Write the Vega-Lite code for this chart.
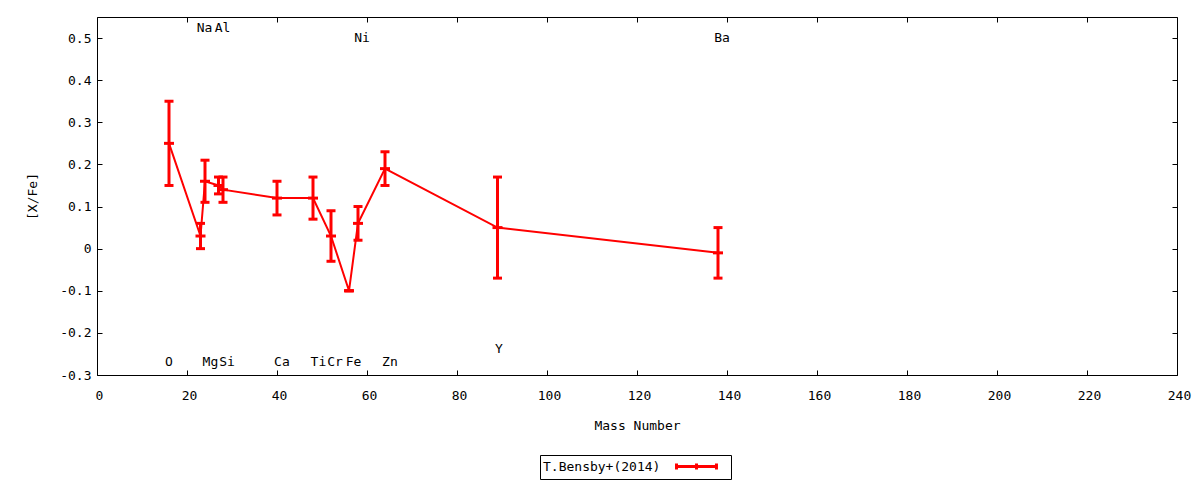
{
  "$schema": "https://vega.github.io/schema/vega-lite/v6.json",
  "width": 1080,
  "height": 358,
  "autosize": {"type": "none"},
  "padding": {"left": 97, "top": 17, "right": 23, "bottom": 105},
  "background": "white",
  "config": {
    "view": {"stroke": "black", "strokeWidth": 1},
    "axis": {
      "domain": false, "grid": false,
      "tickColor": "black", "tickSize": -5, "tickWidth": 1,
      "labelFont": "DejaVu Sans Mono", "labelFontSize": 13, "labelColor": "black",
      "titleFont": "DejaVu Sans Mono", "titleFontSize": 13, "titleFontWeight": "normal", "titleColor": "black"
    },
    "text": {"font": "DejaVu Sans Mono", "fontSize": 13}
  },
  "datasets": {
    "abund": [
      {"element": "O", "mass": 16, "val": 0.25, "lo": 0.15, "hi": 0.35, "source": "T.Bensby+(2014)"},
      {"element": "Na", "mass": 23, "val": 0.03, "lo": 0.0, "hi": 0.06, "source": "T.Bensby+(2014)"},
      {"element": "Mg", "mass": 24, "val": 0.16, "lo": 0.11, "hi": 0.21, "source": "T.Bensby+(2014)"},
      {"element": "Al", "mass": 27, "val": 0.15, "lo": 0.13, "hi": 0.17, "source": "T.Bensby+(2014)"},
      {"element": "Si", "mass": 28, "val": 0.14, "lo": 0.11, "hi": 0.17, "source": "T.Bensby+(2014)"},
      {"element": "Ca", "mass": 40, "val": 0.12, "lo": 0.08, "hi": 0.16, "source": "T.Bensby+(2014)"},
      {"element": "Ti", "mass": 48, "val": 0.12, "lo": 0.07, "hi": 0.17, "source": "T.Bensby+(2014)"},
      {"element": "Cr", "mass": 52, "val": 0.03, "lo": -0.03, "hi": 0.09, "source": "T.Bensby+(2014)"},
      {"element": "Fe", "mass": 56, "val": -0.10, "lo": -0.10, "hi": -0.10, "source": "T.Bensby+(2014)"},
      {"element": "Ni", "mass": 58, "val": 0.06, "lo": 0.02, "hi": 0.10, "source": "T.Bensby+(2014)"},
      {"element": "Zn", "mass": 64, "val": 0.19, "lo": 0.15, "hi": 0.23, "source": "T.Bensby+(2014)"},
      {"element": "Y", "mass": 89, "val": 0.05, "lo": -0.07, "hi": 0.17, "source": "T.Bensby+(2014)"},
      {"element": "Ba", "mass": 138, "val": -0.01, "lo": -0.07, "hi": 0.05, "source": "T.Bensby+(2014)"}
    ],
    "labels": [
      {"element": "O", "lx": 16.0, "ly": -0.27},
      {"element": "Na", "lx": 23.9, "ly": 0.525},
      {"element": "Mg", "lx": 25.2, "ly": -0.27},
      {"element": "Al", "lx": 27.9, "ly": 0.525},
      {"element": "Si", "lx": 28.9, "ly": -0.27},
      {"element": "Ca", "lx": 41.1, "ly": -0.27},
      {"element": "Ti", "lx": 49.2, "ly": -0.27},
      {"element": "Cr", "lx": 52.9, "ly": -0.27},
      {"element": "Fe", "lx": 57.0, "ly": -0.27},
      {"element": "Ni", "lx": 58.9, "ly": 0.5},
      {"element": "Zn", "lx": 65.1, "ly": -0.27},
      {"element": "Y", "lx": 89.3, "ly": -0.238},
      {"element": "Ba", "lx": 138.9, "ly": 0.5}
    ]
  },
  "layer": [
    {
      "data": {"name": "abund"},
      "mark": {"type": "line", "strokeWidth": 2},
      "encoding": {
        "x": {
          "field": "mass", "type": "quantitative",
          "scale": {"domain": [0, 240], "nice": false},
          "axis": {"values": [0, 20, 40, 60, 80, 100, 120, 140, 160, 180, 200, 220, 240], "title": "Mass Number", "labelPadding": 19, "labelOffset": 2, "labelFlush": false, "titlePadding": 17}
        },
        "y": {
          "field": "val", "type": "quantitative",
          "scale": {"domain": [-0.3, 0.55], "nice": false, "zero": false},
          "axis": {"values": [-0.3, -0.2, -0.1, 0, 0.1, 0.2, 0.3, 0.4, 0.5], "labelExpr": "'' + datum.value", "title": "[X/Fe]", "labelPadding": 11, "titlePadding": 20}
        },
        "color": {
          "field": "source", "type": "nominal",
          "scale": {"range": ["#ff0000"]},
          "legend": {
            "title": "\u00a0T.Bensby+(2014)", "titleOrient": "left", "titleFont": "DejaVu Sans Mono",
            "titleFontSize": 13, "titleFontWeight": "normal", "titleColor": "black", "titlePadding": 14,
            "titleBaseline": "middle",
            "orient": "none", "legendX": 443, "legendY": 438,
            "strokeColor": "black", "padding": 3, "cornerRadius": 0,
            "labelExpr": "''", "labelOffset": 0,
            "symbolType": "M-1,0H4.71M-1,-0.43V0.43M4.71,-0.43V0.43M1.86,-0.43V0.43M5.43,0",
            "symbolSize": 196, "symbolStrokeWidth": 3, "symbolFillColor": "transparent"
          }
        }
      }
    },
    {
      "data": {"name": "abund"},
      "mark": {"type": "rule", "strokeWidth": 3, "color": "#ff0000"},
      "encoding": {
        "x": {
          "field": "mass", "type": "quantitative",
          "axis": {"orient": "top", "labels": false, "title": null, "values": [0, 20, 40, 60, 80, 100, 120, 140, 160, 180, 200, 220, 240]}
        },
        "y": {
          "field": "lo", "type": "quantitative",
          "axis": {"orient": "right", "labels": false, "title": null, "values": [-0.3, -0.2, -0.1, 0, 0.1, 0.2, 0.3, 0.4, 0.5]}
        },
        "y2": {"field": "hi"}
      }
    },
    {
      "data": {"name": "abund"},
      "mark": {"type": "tick", "orient": "horizontal", "size": 9, "thickness": 3, "color": "#ff0000", "opacity": 1},
      "encoding": {
        "x": {"field": "mass", "type": "quantitative", "axis": null},
        "y": {"field": "lo", "type": "quantitative", "axis": null}
      }
    },
    {
      "data": {"name": "abund"},
      "mark": {"type": "tick", "orient": "horizontal", "size": 9, "thickness": 3, "color": "#ff0000", "opacity": 1},
      "encoding": {
        "x": {"field": "mass", "type": "quantitative", "axis": null},
        "y": {"field": "hi", "type": "quantitative", "axis": null}
      }
    },
    {
      "data": {"name": "abund"},
      "mark": {"type": "tick", "orient": "horizontal", "size": 10, "thickness": 3, "color": "#ff0000", "opacity": 1},
      "encoding": {
        "x": {"field": "mass", "type": "quantitative", "axis": null},
        "y": {"field": "val", "type": "quantitative", "axis": null}
      }
    },
    {
      "data": {"name": "labels"},
      "mark": {"type": "text", "align": "center", "baseline": "middle", "color": "black"},
      "encoding": {
        "x": {"field": "lx", "type": "quantitative", "axis": null},
        "y": {"field": "ly", "type": "quantitative", "axis": null},
        "text": {"field": "element"}
      }
    }
  ],
  "resolve": {"axis": {"x": "independent", "y": "independent"}}
}
